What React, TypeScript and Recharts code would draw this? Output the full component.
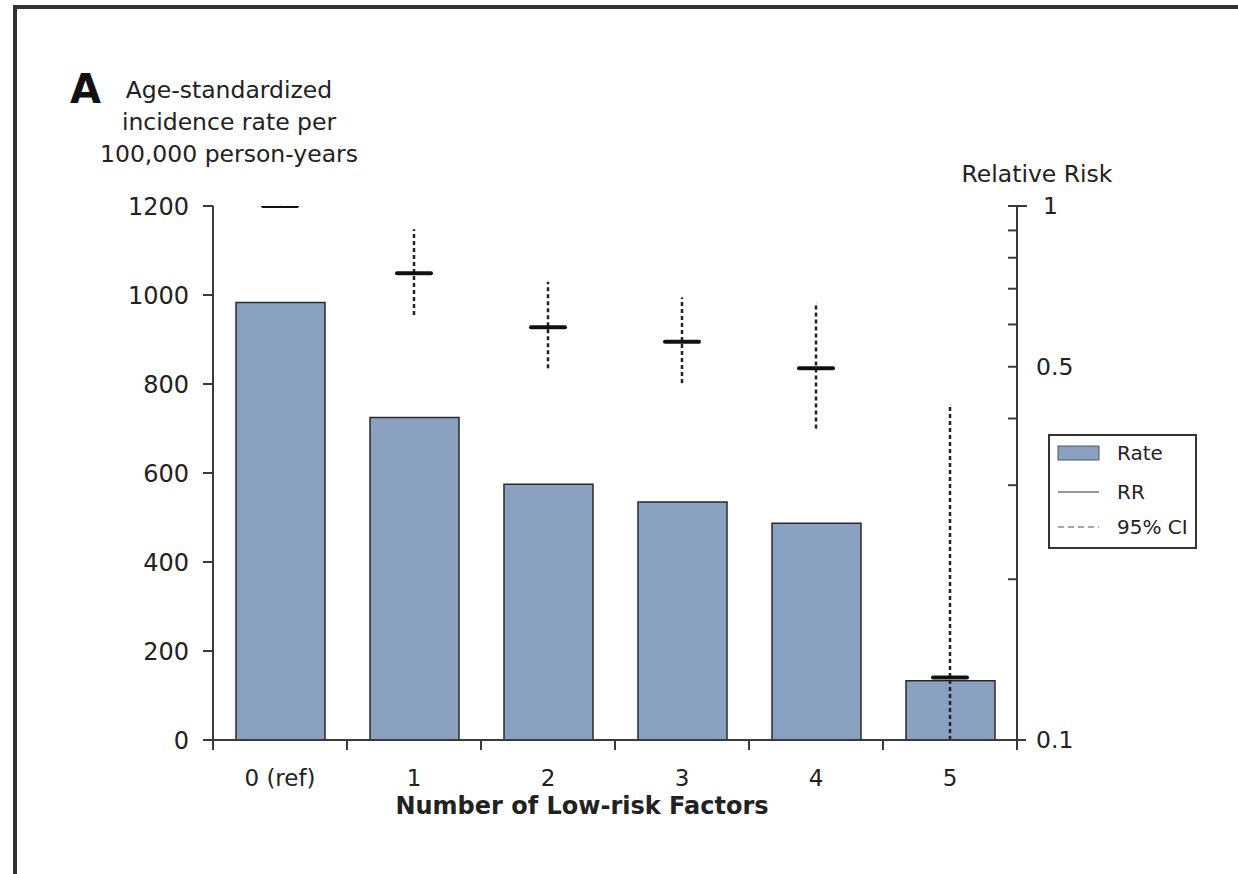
import React from 'react';
import { ComposedChart, Bar, Scatter, ErrorBar, XAxis, YAxis, Legend } from 'recharts';

const categories = ['0 (ref)', '1', '2', '3', '4', '5'];
const rates = [983, 725, 575, 535, 487, 133];
const relativeRisk = [1, 0.748, 0.593, 0.557, 0.497, 0.131];
const ciLower = [1, 0.625, 0.497, 0.466, 0.383, 0.1];
const ciUpper = [1, 0.905, 0.721, 0.674, 0.657, 0.424];
const leftTicks = [0, 200, 400, 600, 800, 1000, 1200];
const rightTicks = [0.1, 0.2, 0.3, 0.4, 0.5, 0.6, 0.7, 0.8, 0.9, 1];
const rightLabels = [0.1, 0.5, 1];

const data = categories.map((name, i) => ({
  name,
  rate: rates[i],
  rr: relativeRisk[i],
  ci: [relativeRisk[i] - ciLower[i], ciUpper[i] - relativeRisk[i]],
}));

const WIDTH = 1238;
const HEIGHT = 874;
const PLOT_LEFT = 213;
const PLOT_RIGHT = 1017;
const BAND = (PLOT_RIGHT - PLOT_LEFT) / categories.length;

const INK = '#222';
const AXIS = '#3a3a3a';
const BAR_FILL = '#8aa0c0';
const FONT = '"DejaVu Sans", "Noto Sans", sans-serif';

const XTick = (props: any) => {
  const { x, y, payload, index } = props;
  const left = x - BAND / 2;
  const right = x + BAND / 2;
  const last = index === categories.length - 1;
  return (
    <g>
      <line x1={left} x2={left} y1={y} y2={y + 10} stroke={AXIS} strokeWidth={2} />
      {last && <line x1={right} x2={right} y1={y} y2={y + 10} stroke={AXIS} strokeWidth={2} />}
      {index === 0 && <line x1={left - 10} x2={left} y1={y} y2={y} stroke={AXIS} strokeWidth={2} />}
      {last && <line x1={right} x2={right + 9} y1={y} y2={y} stroke={AXIS} strokeWidth={2} />}
      <text x={x} y={y + 46} textAnchor="middle" fontSize={23} fill={INK}>
        {payload.value}
      </text>
    </g>
  );
};

const RightTick = (props: any) => {
  const { x, y, payload } = props;
  const v = payload.value;
  return (
    <g>
      <line x1={x - 9} x2={v === 1 ? x + 10 : x} y1={y} y2={y} stroke={AXIS} strokeWidth={2} />
      {rightLabels.includes(v) && (
        <text x={v === 1 ? x + 26 : x + 19} y={y} dy="0.35em" fontSize={23.5} fill={INK}>
          {String(v)}
        </text>
      )}
    </g>
  );
};

const RRMark = (props: any) => {
  const { cx, cy } = props;
  if (cx == null || cy == null) return null;
  return (
    <line x1={cx - 17} x2={cx + 17} y1={cy} y2={cy} stroke="#111" strokeWidth={4} strokeLinecap="round" />
  );
};

const LegendBox = () => (
  <div style={{ width: 149, height: 115, border: '2px solid #333', boxSizing: 'border-box', background: '#fff' }}>
    <svg width={145} height={111} style={{ display: 'block', fontFamily: FONT }}>
      <rect x={8} y={10} width={41} height={14} fill={BAR_FILL} stroke="#555" strokeWidth={1} />
      <text x={67} y={24} fontSize={20} fill={INK}>Rate</text>
      <line x1={8} x2={49} y1={56} y2={56} stroke="#777" strokeWidth={1.5} />
      <text x={67} y={63} fontSize={20} fill={INK}>RR</text>
      <line x1={8} x2={49} y1={91} y2={91} stroke="#888" strokeWidth={1.5} strokeDasharray="6 4" />
      <text x={67} y={98} fontSize={20} fill={INK}>95% CI</text>
    </svg>
  </div>
);

export default function App() {
  return (
    <div style={{ position: 'absolute', left: 0, top: 0, width: WIDTH, height: HEIGHT, background: '#fff', fontFamily: FONT }}>
      <div style={{ position: 'absolute', left: 13, top: 5, width: 4, height: HEIGHT - 5, background: '#333' }} />
      <div style={{ position: 'absolute', left: 13, top: 5, width: WIDTH - 13, height: 4, background: '#333' }} />
      <ComposedChart
        width={WIDTH}
        height={HEIGHT}
        data={data}
        margin={{ top: 206, right: 161, bottom: 94, left: 133 }}
      >
        <XAxis
          dataKey="name"
          type="category"
          height={40}
          interval={0}
          tickSize={0}
          tickMargin={0}
          tickLine={false}
          axisLine={{ stroke: AXIS, strokeWidth: 2 }}
          tick={<XTick />}
        />
        <YAxis
          yAxisId="left"
          type="number"
          domain={[0, 1200]}
          ticks={leftTicks}
          interval={0}
          width={80}
          tickSize={10}
          tickMargin={14}
          axisLine={{ stroke: AXIS, strokeWidth: 2 }}
          tickLine={{ stroke: AXIS, strokeWidth: 2 }}
          tick={{ fontSize: 24, fill: INK }}
        />
        <YAxis
          yAxisId="right"
          orientation="right"
          type="number"
          scale="log"
          domain={[0.1, 1]}
          allowDataOverflow
          ticks={rightTicks}
          interval={0}
          width={60}
          tickSize={0}
          tickMargin={0}
          tickLine={false}
          axisLine={{ stroke: AXIS, strokeWidth: 2 }}
          tick={<RightTick />}
        />
        <Bar
          yAxisId="left"
          dataKey="rate"
          name="Rate"
          fill={BAR_FILL}
          stroke="#2a2a2a"
          strokeWidth={1.5}
          barSize={89}
          isAnimationActive={false}
        />
        <Scatter yAxisId="right" dataKey="rr" name="RR" shape={<RRMark />} isAnimationActive={false}>
          <ErrorBar
            dataKey="ci"
            direction="y"
            width={0}
            stroke="#222"
            strokeWidth={2.5}
            strokeDasharray="4 3"
            isAnimationActive={false}
          />
        </Scatter>
        <Legend
          layout="vertical"
          align="center"
          verticalAlign="middle"
          content={<LegendBox />}
          wrapperStyle={{ left: 1048, top: 434, width: 149, height: 115 }}
        />
      </ComposedChart>
      <svg
        width={WIDTH}
        height={HEIGHT}
        style={{ position: 'absolute', left: 0, top: 0, pointerEvents: 'none', fontFamily: FONT }}
      >
        <text x={70} y={103} fontSize={40} fontWeight={700} fill="#111">A</text>
        <text x={229} y={98} fontSize={23.5} textAnchor="middle" fill={INK}>Age-standardized</text>
        <text x={229} y={130} fontSize={23.5} textAnchor="middle" fill={INK}>incidence rate per</text>
        <text x={229} y={162} fontSize={23.5} textAnchor="middle" fill={INK}>100,000 person-years</text>
        <text x={1037} y={182} fontSize={23.5} textAnchor="middle" fill={INK}>Relative Risk</text>
        <text x={582} y={814} fontSize={24} fontWeight={600} textAnchor="middle" fill={INK}>
          Number of Low-risk Factors
        </text>
      </svg>
    </div>
  );
}
